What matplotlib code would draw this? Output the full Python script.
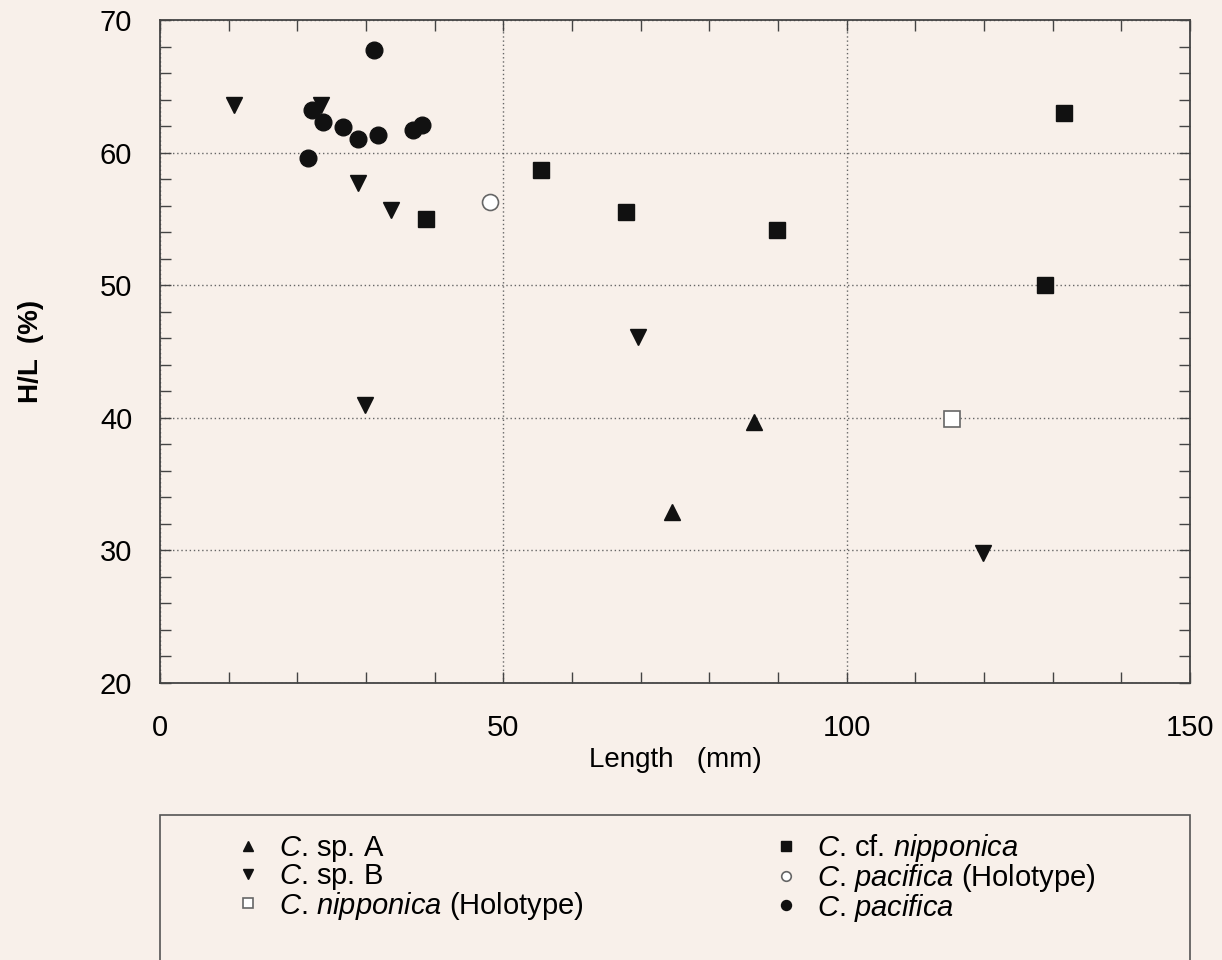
import matplotlib
matplotlib.use("Agg")
import matplotlib.pyplot as plt
from matplotlib.patches import Rectangle

plt.rcParams['font.family'] = ['Liberation Sans', 'DejaVu Sans']
plt.rcParams['mathtext.fontset'] = 'custom'
plt.rcParams['mathtext.it'] = 'Liberation Sans:italic'
plt.rcParams['mathtext.rm'] = 'Liberation Sans'

# data: shell length (mm) vs H/L (%)
spA_len = [74.6, 86.5]
spA_hl = [32.9, 39.7]

spB_len = [10.8, 23.4, 28.9, 33.6, 29.9, 69.6, 119.8]
spB_hl = [63.6, 63.6, 57.7, 55.7, 41.0, 46.1, 29.8]

nip_holo_len = [115.3]
nip_holo_hl = [39.9]

cfnip_len = [38.8, 55.5, 67.9, 89.8, 128.9, 131.7]
cfnip_hl = [55.0, 58.7, 55.5, 54.2, 50.0, 63.0]

pac_holo_len = [48.0]
pac_holo_hl = [56.3]

pac_len = [31.1, 22.1, 23.7, 26.6, 28.8, 31.8, 36.8, 38.1, 21.5]
pac_hl = [67.7, 63.2, 62.3, 61.9, 61.0, 61.3, 61.7, 62.1, 59.6]

bg = '#f8f0ea'
fig = plt.figure(figsize=(12.22, 9.6), dpi=100, facecolor=bg)
ax = fig.add_axes([160/1222, 1 - 683/960, 1030/1222, 663/960])
ax.set_facecolor(bg)

ms = 11
ax.plot(spA_len, spA_hl, '^', color='#111111', ms=ms, ls='none', label=r'$\mathit{C}$. sp. A')
ax.plot(spB_len, spB_hl, 'v', color='#111111', ms=ms, ls='none', label=r'$\mathit{C}$. sp. B')
ax.plot(nip_holo_len, nip_holo_hl, 's', mfc='white', mec='#666666', mew=1.2, ms=11, ls='none',
        label=r'$\mathit{C}$. $\mathit{nipponica}$ (Holotype)')
ax.plot(cfnip_len, cfnip_hl, 's', color='#111111', ms=11, ls='none',
        label=r'$\mathit{C}$. cf. $\mathit{nipponica}$')
ax.plot(pac_holo_len, pac_holo_hl, 'o', mfc='white', mec='#666666', mew=1.2, ms=11.5, ls='none',
        label=r'$\mathit{C}$. $\mathit{pacifica}$ (Holotype)')
ax.plot(pac_len, pac_hl, 'o', color='#111111', ms=12, ls='none', label=r'$\mathit{C}$. $\mathit{pacifica}$')

ax.set_xlim(0, 150)
ax.set_ylim(20, 70)
ax.set_xticks([0, 50, 100, 150])
ax.set_yticks([20, 30, 40, 50, 60, 70])
ax.set_xticks(range(0, 151, 10), minor=True)
ax.set_yticks(range(20, 71, 2), minor=True)
ax.tick_params(which='both', direction='in', top=True, right=True, color='#444444', width=1)
ax.tick_params(which='major', length=8)
ax.tick_params(which='minor', length=8)
ax.tick_params(axis='x', which='major', pad=22, labelsize=21)
ax.tick_params(axis='y', which='major', pad=20, labelsize=21)
ax.grid(True, which='major', linestyle=(0, (1, 2)), color='#666666', linewidth=1)
for s in ax.spines.values():
    s.set_color('#444444')
    s.set_linewidth(1.3)

ax.set_xlabel('Length   (mm)', fontsize=20, labelpad=4)
ax.set_ylabel('H/L  (%)', fontsize=20, fontweight='bold', labelpad=40)

# legend box below the plot
fig.patches.append(Rectangle((160/1222, -0.05), 1030/1222, 0.05 + (960 - 815)/960,
                             transform=fig.transFigure, fill=False, ec='#555555', lw=1.2))
handles, labels = ax.get_legend_handles_labels()
fig.legend(handles, labels, ncol=2, frameon=False, fontsize=21, markerscale=0.6,
           loc='upper left', bbox_to_anchor=(206/1222, 1 - 806/960), handlelength=1.1,
           handletextpad=0.5, labelspacing=-0.08, columnspacing=6.4)

fig.savefig('out.png', dpi=100, facecolor=bg)
